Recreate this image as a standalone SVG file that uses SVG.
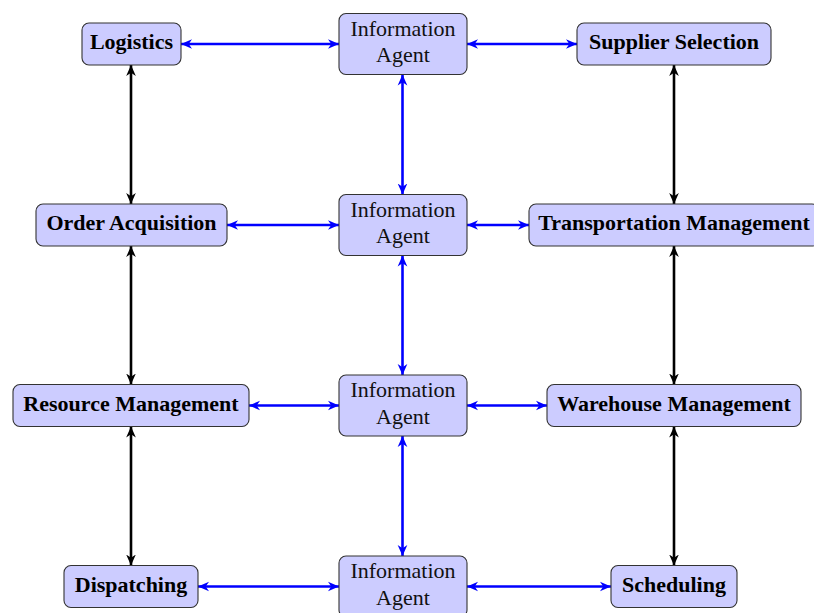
<svg xmlns="http://www.w3.org/2000/svg" width="814" height="613" viewBox="0 0 814 613">
<style>
.box{fill:#ccccff;stroke:#333;stroke-width:1.1}
.lbl{font-family:"Liberation Serif","Times New Roman",serif;font-weight:bold;font-size:22px;fill:#000;text-anchor:middle}
.ag{font-family:"Liberation Serif","Times New Roman",serif;font-size:22px;fill:#111;text-anchor:middle}
.blue{stroke:#0000ff;stroke-width:2.6;fill:none;marker-start:url(#ab);marker-end:url(#ab)}
.black{stroke:#000;stroke-width:2.6;fill:none;marker-start:url(#ak);marker-end:url(#ak)}
</style>
<defs>
<marker id="ab" markerUnits="userSpaceOnUse" viewBox="0 0 10 10" refX="10" refY="5" markerWidth="11" markerHeight="11" orient="auto-start-reverse">
<path d="M10 5 L0 0.6 L3 5 L0 9.4 Z" fill="#0000ff"/>
</marker>
<marker id="ak" markerUnits="userSpaceOnUse" viewBox="0 0 10 10" refX="10" refY="5" markerWidth="11" markerHeight="11" orient="auto-start-reverse">
<path d="M10 5 L0 0.6 L3 5 L0 9.4 Z" fill="#000"/>
</marker>
</defs>
<g id="connectors">
<line class="blue" x1="181" y1="44" x2="339" y2="44"/>
<line class="blue" x1="467" y1="44" x2="577" y2="44"/>
<line class="blue" x1="227" y1="225" x2="339" y2="225"/>
<line class="blue" x1="467" y1="225" x2="529" y2="225"/>
<line class="blue" x1="249" y1="405.5" x2="339" y2="405.5"/>
<line class="blue" x1="467" y1="405.5" x2="547" y2="405.5"/>
<line class="blue" x1="198" y1="586.5" x2="339" y2="586.5"/>
<line class="blue" x1="467" y1="586.5" x2="611" y2="586.5"/>
<line class="blue" x1="402.5" y1="74.5" x2="402.5" y2="194.5"/>
<line class="blue" x1="402.5" y1="255.5" x2="402.5" y2="375"/>
<line class="blue" x1="402.5" y1="436" x2="402.5" y2="556"/>
<line class="black" x1="131" y1="65" x2="131" y2="204"/>
<line class="black" x1="131" y1="246" x2="131" y2="384.5"/>
<line class="black" x1="131" y1="426.5" x2="131" y2="565.5"/>
<line class="black" x1="674" y1="65" x2="674" y2="204"/>
<line class="black" x1="674" y1="246" x2="674" y2="384.5"/>
<line class="black" x1="674" y1="426.5" x2="674" y2="565.5"/>
</g>
<g id="logistics"><rect class="box" x="82" y="23" width="99" height="42" rx="7"/><text class="lbl" x="131.5" y="49">Logistics</text></g>
<g id="agent1"><rect class="box" x="339" y="13.5" width="128" height="61" rx="7"/><text class="ag" x="403" y="35.5">Information</text><text class="ag" x="403" y="62">Agent</text></g>
<g id="supplier"><rect class="box" x="577" y="23" width="194" height="42" rx="7"/><text class="lbl" x="674" y="49">Supplier Selection</text></g>
<g id="order"><rect class="box" x="36" y="204" width="191" height="42" rx="7"/><text class="lbl" x="131.5" y="230">Order Acquisition</text></g>
<g id="agent2"><rect class="box" x="339" y="194.5" width="128" height="61" rx="7"/><text class="ag" x="403" y="216.5">Information</text><text class="ag" x="403" y="243">Agent</text></g>
<g id="transport"><rect class="box" x="529" y="204" width="290" height="42" rx="7"/><text class="lbl" x="674" y="230">Transportation Management</text></g>
<g id="resource"><rect class="box" x="13" y="384.5" width="236" height="42" rx="7"/><text class="lbl" x="131" y="410.5">Resource Management</text></g>
<g id="agent3"><rect class="box" x="339" y="375" width="128" height="61" rx="7"/><text class="ag" x="403" y="397">Information</text><text class="ag" x="403" y="423.5">Agent</text></g>
<g id="warehouse"><rect class="box" x="547" y="384.5" width="254" height="42" rx="7"/><text class="lbl" x="674" y="410.5">Warehouse Management</text></g>
<g id="dispatching"><rect class="box" x="64" y="565.5" width="134" height="42" rx="7"/><text class="lbl" x="131" y="591.5">Dispatching</text></g>
<g id="agent4"><rect class="box" x="339" y="556" width="128" height="61" rx="7"/><text class="ag" x="403" y="578">Information</text><text class="ag" x="403" y="604.5">Agent</text></g>
<g id="scheduling"><rect class="box" x="611" y="565.5" width="126" height="42" rx="7"/><text class="lbl" x="674" y="591.5">Scheduling</text></g>
</svg>
